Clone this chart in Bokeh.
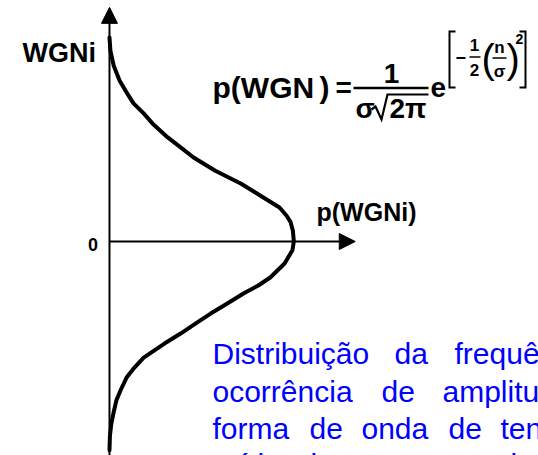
from bokeh.plotting import figure
from bokeh.models import Range1d, Arrow, NormalHead
from bokeh.core.properties import value
from bokeh.embed import file_html
from bokeh.resources import INLINE

# Amplitude of the noise (in units of sigma), top tail to bottom tail
amplitude = [3.06, 2.86, 2.64, 2.41, 2.19, 2.07, 1.92, 1.77, 1.56, 1.41, 1.26,
             1.06, 0.87, 0.66, 0.51, 0.39, 0.29, 0.16, 0.00,
             -0.13, -0.33, -0.54, -0.66, -0.78, -0.93, -1.08, -1.23, -1.38,
             -1.53, -1.74, -1.89, -2.04, -2.23, -2.38, -2.56, -2.73, -2.91, -3.13]
# Probability density p(WGNi) at each amplitude
density = [0.000, 0.002, 0.009, 0.022, 0.041, 0.052, 0.074, 0.093, 0.126, 0.154,
           0.182, 0.229, 0.284, 0.333, 0.368, 0.383, 0.392, 0.397, 0.399,
           0.396, 0.379, 0.348, 0.322, 0.290, 0.255, 0.219, 0.186, 0.154,
           0.119, 0.074, 0.054, 0.037, 0.024, 0.015, 0.009, 0.004, 0.001, 0.000]

axis_top = 3.51      # amplitude where the vertical arrow ends
axis_right = 0.532   # density where the horizontal arrow ends

caption = [
    ["Distribuição", "da", "frequência"],
    ["ocorrência", "de", "amplitudes"],
    ["forma", "de", "onda", "de", "tensão"],
    ["ruído", "branco", "gaussiano."],
]

W, H = 538, 455
X0, X1 = -0.2359, 0.9286
Y0, Y1 = -3.208, 3.613

p = figure(width=W, height=H, x_range=Range1d(X0, X1), y_range=Range1d(Y0, Y1),
           output_backend="svg", toolbar_location=None, min_border=0,
           x_axis_type=None, y_axis_type=None)
p.grid.visible = False
p.outline_line_color = None
p.background_fill_color = "white"
p.border_fill_color = "white"

FONT = "Liberation Sans"
EM_MID = 0.3465  # centre of the ascent/descent box above the baseline, in em


def dx(px):
    return X0 + px * (X1 - X0) / W


def dy(py):
    return Y1 - py * (Y1 - Y0) / H


def label(txt, x, base, size, bold=True, align="left", color="black"):
    # x, base: pixel position of the text start and its baseline
    p.text(x=[dx(x)], y=[dy(base - EM_MID * size)], text=[txt],
           text_font=value(FONT), text_font_size=f"{size}px",
           text_font_style="bold" if bold else "normal",
           text_align=align, text_baseline="middle", text_color=color)


def stroke(xs, ys, w=2.0):
    p.line([dx(v) for v in xs], [dy(v) for v in ys], line_width=w, color="black",
           line_join="miter", line_cap="butt")


# axes with arrow heads
p.add_layout(Arrow(x_start=0, y_start=Y0, x_end=0, y_end=axis_top, line_width=2,
                   end=NormalHead(size=16, fill_color="black", line_color="black")))
p.add_layout(Arrow(x_start=0, y_start=0, x_end=axis_right, y_end=0, line_width=2,
                   end=NormalHead(size=16, fill_color="black", line_color="black")))

# density curve
p.line(density, amplitude, line_width=4, color="black", line_join="round",
       line_cap="round")

# axis labels
label("WGNi", 22, 62, 27)
label("0", 92.5, 250, 18, align="center")
label("p(WGNi)", 316, 220, 25)

# formula p(WGN) = 1/(sigma sqrt(2 pi)) e^[-1/2 (n/sigma)^2]
label("p(WGN", 212, 97, 30)
label(")", 319, 97, 30)
label("=", 335, 97, 28)
label("1", 391, 83, 28, align="center")
stroke([353, 428], [87.5, 87.5], 2.5)
label("σ", 355, 118, 28)
stroke([371, 375, 381, 387, 428], [109, 106, 119, 94, 94], 2.2)
label("2π", 389, 118, 28)
label("e", 430, 97, 28)
stroke([455, 449, 449, 455], [31, 31, 87, 87], 2)
stroke([519, 525, 525, 519], [31, 31, 87, 87], 2)
label("−", 455, 63, 18)
label("1", 474, 50, 17, align="center")
stroke([469, 480], [56.5, 56.5], 1.5)
label("2", 474, 75, 17, align="center")
label("(", 481, 72, 40, bold=False)
label("n", 499, 53, 17, align="center")
stroke([492, 506], [57.5, 57.5], 1.5)
label("σ", 499, 77, 17, align="center")
label(")", 506, 72, 40, bold=False)
label("2", 515, 43, 14)

# justified caption
word_x = [[212, 394, 454], [212, 381, 442], [212, 309, 361, 448, 500], [212, 310, 430]]
baselines = [363, 401, 438, 474]
for words, xs, base in zip(caption, word_x, baselines):
    for w_, x_ in zip(words, xs):
        label(w_, x_, base, 30, bold=False, color="#0000FF")

open("out.html", "w").write(file_html(p, INLINE))
